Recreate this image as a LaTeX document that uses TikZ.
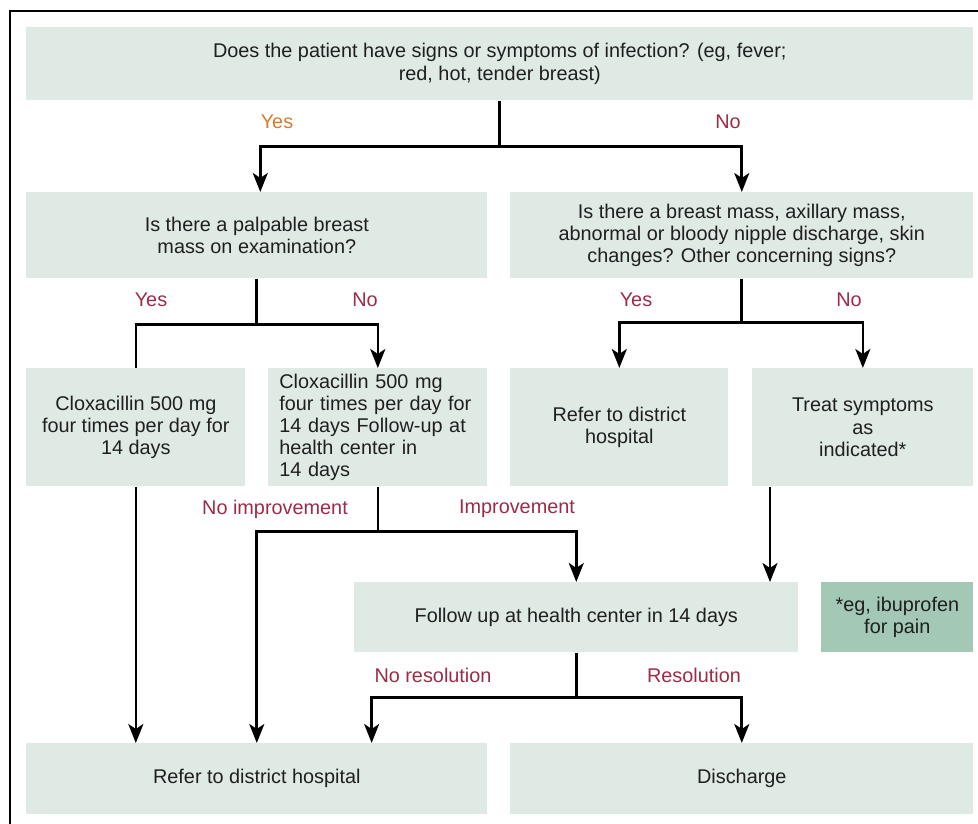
\documentclass[tikz,border=0pt]{standalone}
\usepackage{fontspec}
\setmainfont{Liberation Sans}
\usetikzlibrary{arrows.meta,positioning}
\definecolor{boxgreen}{HTML}{E0EAE5}
\definecolor{notegreen}{HTML}{A3C8B6}
\definecolor{yesorange}{HTML}{D97B2C}
\definecolor{labelred}{HTML}{9C2B47}
\tikzset{
   box/.style={fill=boxgreen, anchor=north west, inner sep=0pt, align=center,
      text=black!88, font=\fontsize{11.3}{12.6}\selectfont},
   flow/.style={line width=1.5pt},
   arr/.style={flow, -{Stealth[length=0.38cm,width=0.3cm,inset=0.1cm]}},
   lbl/.style={text=labelred, font=\fontsize{11.3}{13}\selectfont},
}
\begin{document}
\begin{tikzpicture}[x=0.02cm, y=-0.02cm]
      \useasboundingbox (0, 0) rectangle (978, 824);
      \draw[line width=0.8pt] (10, 824) -- (10, 11) -- (978, 11);
      % boxes
      \node[box, minimum width=18.94cm, minimum height=1.46cm] (infect) at (26, 27)
         {Does the patient have signs or symptoms of infection? (eg, fever;\\ red, hot, tender breast)};
      \node[box, minimum width=9.22cm, minimum height=1.72cm] (palp) at (26, 192)
         {Is there a palpable breast\\ mass on examination?};
      \node[box, minimum width=9.26cm, minimum height=1.72cm] (mass) at (510, 192)
         {Is there a breast mass, axillary mass,\\ abnormal or bloody nipple discharge, skin\\ changes? Other concerning signs?};
      \node[box, minimum width=4.38cm, minimum height=2.36cm] (cloxa) at (26, 368)
         {Cloxacillin 500 mg\\ four times per day for\\ 14 days};
      \node[box, align=left, text width=3.94cm, inner xsep=0.22cm, minimum height=2.36cm] (cloxb) at (268, 368)
         {Cloxacillin 500 mg\\ four times per day for\\ 14 days Follow-up at\\ health center in\\ 14 days};
      \node[box, minimum width=4.36cm, minimum height=2.36cm] (refc) at (510, 368)
         {Refer to district\\ hospital};
      \node[box, minimum width=4.42cm, minimum height=2.36cm] (treat) at (752, 368)
         {Treat symptoms\\ as\\ indicated*};
      \node[box, minimum width=8.88cm, minimum height=1.4cm] (follow) at (354, 582)
         {Follow up at health center in 14 days};
      \node[box, fill=notegreen, minimum width=3.04cm, minimum height=1.4cm] (note) at (821, 582)
         {*eg, ibuprofen\\ for pain};
      \node[box, minimum width=9.22cm, minimum height=1.42cm] (refer) at (26, 743)
         {Refer to district hospital};
      \node[box, minimum width=9.26cm, minimum height=1.42cm] (discharge) at (510, 743)
         {Discharge};
      % connectors
      \draw[flow] (infect.south) -- ++(0, 46) coordinate (j1);
      \draw[arr] (j1) -| ([xshift=0.07cm]palp.north);
      \draw[arr] (j1) -| (mass.north);
      \draw[flow] (palp.south) -- ++(0, 46) coordinate (j2);
      \draw[flow] (j2) -| (cloxa.north);
      \draw[arr] (j2) -| (cloxb.north);
      \draw[flow] (mass.south) -- ++(0, 44) coordinate (j3);
      \draw[arr] (j3) -| (refc.north);
      \draw[arr] (j3) -| (treat.north);
      \draw[arr] (cloxa.south) -- (cloxa.south |- refer.north);
      \draw[flow] (cloxb.south) -- ++(0, 45) coordinate (j4);
      \draw[arr] (j4) -| (refer.north);
      \draw[arr] (j4) -| (follow.north);
      \coordinate (d1) at ([xshift=0.36cm]treat.south west);
      \draw[arr] (d1) -- (d1 |- follow.north);
      \draw[flow] (follow.south) -- ++(0, 45) coordinate (j5);
      \draw[arr] (j5) -| ([xshift=-2.32cm]refer.north east);
      \draw[arr] (j5) -| (discharge.north);
      % branch labels
      \node[lbl, text=yesorange] (yes1) at (277, 122) {Yes};
      \node[lbl] (no1) at (728, 122) {No};
      \node[lbl] (yes2) at (151, 300) {Yes};
      \node[lbl] (no2) at (365, 300) {No};
      \node[lbl] (yes3) at (636, 300) {Yes};
      \node[lbl] (no3) at (849, 300) {No};
      \node[lbl] (noimp) at (275, 509) {No improvement};
      \node[lbl] (imp) at (517, 509) {Improvement};
      \node[lbl] (nores) at (433, 675) {No resolution};
      \node[lbl] (res) at (694, 675) {Resolution};
\end{tikzpicture}
\end{document}
